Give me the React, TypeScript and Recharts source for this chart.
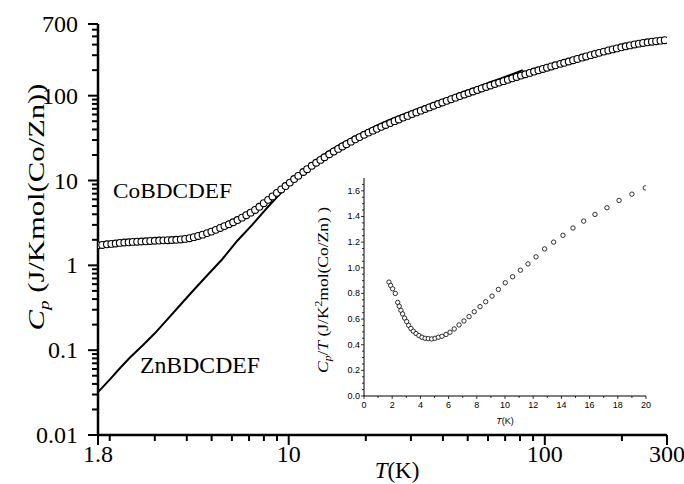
import { ComposedChart, ScatterChart, Scatter, Line, XAxis, YAxis } from 'recharts';

// CoBDCDEF heat capacity (open circles)
const coT = [
  1.8, 1.87, 1.95, 2.03, 2.11, 2.19, 2.28, 2.37, 2.46, 2.56,
  2.66, 2.77, 2.88, 3.0, 3.12, 3.24, 3.37, 3.5, 3.64, 3.79,
  3.94, 4.1, 4.26, 4.43, 4.61, 4.8, 4.99, 5.19, 5.4, 5.61,
  5.84, 6.07, 6.31, 6.57, 6.83, 7.1, 7.39, 7.68, 7.99, 8.31,
  8.64, 8.99, 9.35, 9.72, 10.1, 10.5, 10.9, 11.4, 11.8, 12.3,
  12.8, 13.3, 13.8, 14.4, 15.0, 15.6, 16.2, 16.8, 17.5, 18.2,
  18.9, 19.7, 20.5, 21.3, 22.1, 23.0, 23.9, 24.9, 25.9, 26.9,
  28.0, 29.1, 30.3, 31.5, 32.8, 34.1, 35.4, 36.8, 38.3, 39.8,
  41.4, 43.1, 44.8, 46.6, 48.5, 50.4, 52.4, 54.5, 56.7, 59.0,
  61.3, 63.8, 66.3, 69.0, 71.7, 74.6, 77.6, 80.7, 83.9, 87.3,
  90.8, 94.4, 98.2, 102, 106, 110, 115, 119, 124, 129,
  134, 140, 145, 151, 157, 163, 170, 177, 184, 191,
  199, 207, 215, 224, 233, 242, 252, 262, 272, 283,
  294,
];
const coCp = [
  1.72, 1.74, 1.77, 1.79, 1.81, 1.84, 1.86, 1.87, 1.89, 1.9,
  1.91, 1.92, 1.94, 1.95, 1.96, 1.97, 1.98, 1.99, 2.0, 2.02,
  2.05, 2.09, 2.15, 2.22, 2.3, 2.4, 2.5, 2.62, 2.76, 2.9,
  3.05, 3.22, 3.42, 3.65, 3.9, 4.18, 4.5, 4.9, 5.4, 5.92,
  6.5, 7.15, 7.85, 8.6, 9.45, 10.4, 11.35, 12.6, 13.6, 14.9,
  16.2, 17.5, 18.8, 20.4, 22.0, 23.6, 25.2, 26.8, 28.7, 30.6,
  32.5, 34.6, 36.7, 38.7, 40.7, 42.9, 45.1, 47.6, 50.1, 52.5,
  55.2, 57.8, 60.7, 63.5, 66.6, 69.7, 72.8, 76.1, 79.7, 83.2,
  86.9, 90.9, 94.8, 99.0, 103.3, 107.6, 112.1, 116.8, 121.7, 126.8,
  131.9, 137.3, 142.7, 148.4, 154.0, 160.0, 166.2, 172.5, 178.9, 185.7,
  192.6, 199.5, 206.7, 213.7, 221.0, 228.3, 237.2, 244.3, 252.9, 262.0,
  271.0, 281.7, 290.3, 300.5, 310.4, 320.0, 330.8, 341.2, 351.3, 361.0,
  371.7, 381.9, 391.6, 401.9, 410.7, 418.5, 426.2, 432.9, 439.1, 445.4,
  451.2,
];

// ZnBDCDEF heat capacity (solid line)
const znT = [
  1.8, 2.0, 2.2, 2.4, 2.7, 3.0, 3.4, 3.8, 4.3, 4.84,
  5.5, 6.3, 7.2, 8.2, 9.0, 10.0, 11.0, 12.0, 13.2, 14.5,
  16.0, 18.0, 20.6, 23.0, 26.0, 29.0, 32.5, 36.0, 40.0, 44.0,
  47.8, 52.0, 57.0, 62.0, 67.0, 72.0, 77.0, 82.0,
];
const znCp = [
  0.032, 0.045, 0.062, 0.082, 0.115, 0.158, 0.24, 0.35, 0.53, 0.78,
  1.18, 1.95, 3.0, 4.7, 6.4, 9.0, 11.9, 14.8, 18.6, 22.5,
  27, 32.5, 40, 47, 55, 62.5, 71, 80, 90, 100,
  110, 120, 133, 146, 159, 172, 186, 200,
];

// inset: Cp/T vs T
const insetT = [
  1.77, 1.89, 2.03, 2.22, 2.39, 2.5, 2.62, 2.74, 2.88, 3.03,
  3.17, 3.33, 3.5, 3.69, 3.9, 4.11, 4.33, 4.56, 4.8, 5.04,
  5.27, 5.53, 5.82, 6.1, 6.4, 6.74, 7.09, 7.45, 7.82, 8.23,
  8.63, 9.08, 9.53, 10.02, 10.54, 11.09, 11.63, 12.2, 12.81, 13.45,
  14.11, 14.82, 15.58, 16.38, 17.23, 18.09, 19.0, 19.95,
];
const insetCpT = [
  0.888, 0.862, 0.836, 0.8, 0.73, 0.7, 0.668, 0.64, 0.608, 0.58,
  0.551, 0.526, 0.505, 0.487, 0.471, 0.458, 0.45, 0.448, 0.445, 0.45,
  0.458, 0.466, 0.48, 0.497, 0.523, 0.554, 0.585, 0.619, 0.657, 0.697,
  0.735, 0.779, 0.831, 0.883, 0.93, 0.981, 1.03, 1.085, 1.147, 1.2,
  1.253, 1.31, 1.364, 1.416, 1.468, 1.525, 1.574, 1.623,
];

// axis ticks
const xTicks = [1.8, 2, 3, 4, 5, 6, 7, 8, 9, 10, 20, 30, 40, 50, 60, 70, 80, 90, 100, 200, 300];
const xLabels = [1.8, 10, 100, 300];
const xMajors = [1.8, 10, 100, 300];
const yTicks = [
  0.01, 0.02, 0.03, 0.04, 0.05, 0.06, 0.07, 0.08, 0.09,
  0.1, 0.2, 0.3, 0.4, 0.5, 0.6, 0.7, 0.8, 0.9,
  1, 2, 3, 4, 5, 6, 7, 8, 9,
  10, 20, 30, 40, 50, 60, 70, 80, 90,
  100, 200, 300, 400, 500, 600, 700,
];
const yLabels = [0.01, 0.1, 1, 10, 100, 700];
const yMajors = [0.01, 0.1, 1, 10, 100, 700];

const insetXTicks = [0, 1, 2, 3, 4, 5, 6, 7, 8, 9, 10, 11, 12, 13, 14, 15, 16, 17, 18, 19, 20];
const insetYTicks = [
  0, 0.05, 0.1, 0.15, 0.2, 0.25, 0.3, 0.35, 0.4, 0.45, 0.5, 0.55, 0.6, 0.65, 0.7, 0.75, 0.8,
  0.85, 0.9, 0.95, 1.0, 1.05, 1.1, 1.15, 1.2, 1.25, 1.3, 1.35, 1.4, 1.45, 1.5, 1.55, 1.6, 1.65,
];

const coData = coT.map((t, i) => ({ t, cp: coCp[i] }));
const znData = znT.map((t, i) => ({ t, cp: znCp[i] }));
const insetData = insetT.map((t, i) => ({ t, v: insetCpT[i] }));

const SERIF = '"Liberation Serif", "Times New Roman", serif';
const SANS = '"Liberation Sans", Arial, sans-serif';

const near = (list: number[], v: number) => list.some((m) => Math.abs(m - v) <= Math.abs(m) * 1e-6 + 1e-9);

type Side = 'bottom' | 'left' | 'top' | 'right';

function mainTick(side: Side, majors: number[], labels: number[]) {
  return (props: any) => {
    const { x, y, payload } = props;
    const v = payload.value;
    const len = near(majors, v) ? 10 : 6;
    const label = side === 'bottom' || side === 'left' ? near(labels, v) : false;
    let line;
    if (side === 'bottom' || side === 'top') line = <line x1={x} y1={y} x2={x} y2={y + len} />;
    else line = <line x1={x} y1={y} x2={x - len} y2={y} />;
    return (
      <g stroke="#000" strokeWidth={2}>
        {line}
        {label && side === 'bottom' && (
          <text x={x} y={y + 27} textAnchor="middle" fontSize={24} fontFamily={SERIF} fill="#000" stroke="none">
            {String(v)}
          </text>
        )}
        {label && side === 'left' && (
          <text x={x - 20} y={y + 8} textAnchor="end" fontSize={24} fontFamily={SERIF} fill="#000" stroke="none">
            {String(v)}
          </text>
        )}
      </g>
    );
  };
}

function insetTick(side: 'bottom' | 'left') {
  return (props: any) => {
    const { x, y, payload } = props;
    const v = payload.value;
    if (side === 'bottom') {
      const major = v % 2 === 0;
      return (
        <g>
          <line x1={x} y1={y} x2={x} y2={y + (major ? 3 : 2)} stroke="#000" strokeWidth={0.8} />
          {major && (
            <text x={x} y={y + 12} textAnchor="middle" fontSize={9} fontFamily={SANS} fill="#000">
              {v}
            </text>
          )}
        </g>
      );
    }
    const major = Math.abs(v * 5 - Math.round(v * 5)) < 1e-6;
    return (
      <g>
        <line x1={x} y1={y} x2={x - (major ? 3 : 2)} y2={y} stroke="#000" strokeWidth={0.8} />
        {major && (
          <text x={x - 4} y={y + 3} textAnchor="end" fontSize={9} fontFamily={SANS} fill="#000">
            {v.toFixed(1)}
          </text>
        )}
      </g>
    );
  };
}

const MainCircle = (p: any) => (
  <circle cx={p.cx} cy={p.cy} r={3.4} fill="#fff" stroke="#000" strokeWidth={1.1} />
);
const InsetCircle = (p: any) => (
  <circle cx={p.cx} cy={p.cy} r={2.2} fill="#fff" stroke="#000" strokeWidth={0.8} />
);

const axisStroke = { stroke: '#000', strokeWidth: 2.5 };

export default function App() {
  return (
    <div style={{ position: 'absolute', left: 0, top: 0, width: 684, height: 484, background: '#fff' }}>
      <ComposedChart width={684} height={484} margin={{ top: 24, right: 17, bottom: 0, left: 0 }}>
        <XAxis
          xAxisId="b"
          dataKey="t"
          type="number"
          scale="log"
          domain={[1.8, 300]}
          allowDataOverflow
          ticks={xTicks}
          interval={0}
          height={49}
          tickLine={false}
          tickSize={0}
          tickMargin={0}
          axisLine={axisStroke}
          tick={mainTick('bottom', xMajors, xLabels)}
        />
        <XAxis
          xAxisId="t"
          orientation="top"
          dataKey="t"
          type="number"
          scale="log"
          domain={[1.8, 300]}
          allowDataOverflow
          ticks={xTicks}
          interval={0}
          height={0}
          tickLine={false}
          tickSize={0}
          tickMargin={0}
          axisLine={axisStroke}
          tick={mainTick('top', xMajors, xLabels)}
        />
        <YAxis
          yAxisId="l"
          dataKey="cp"
          type="number"
          scale="log"
          domain={[0.01, 700]}
          allowDataOverflow
          ticks={yTicks}
          interval={0}
          width={98}
          tickLine={false}
          tickSize={0}
          tickMargin={0}
          axisLine={axisStroke}
          tick={mainTick('left', yMajors, yLabels)}
        />
        <YAxis
          yAxisId="r"
          orientation="right"
          dataKey="cp"
          type="number"
          scale="log"
          domain={[0.01, 700]}
          allowDataOverflow
          ticks={yTicks}
          interval={0}
          width={0}
          tickLine={false}
          tickSize={0}
          tickMargin={0}
          axisLine={axisStroke}
          tick={mainTick('right', yMajors, yLabels)}
        />
        <Scatter
          xAxisId="b"
          yAxisId="l"
          data={coData}
          dataKey="cp"
          shape={MainCircle}
          isAnimationActive={false}
        />
        <Line
          xAxisId="b"
          yAxisId="l"
          data={znData}
          dataKey="cp"
          type="linear"
          stroke="#000"
          strokeWidth={2}
          dot={false}
          activeDot={false}
          isAnimationActive={false}
        />
      </ComposedChart>

      <div style={{ position: 'absolute', left: 290, top: 170 }}>
        <ScatterChart width={370} height={260} margin={{ top: 8, right: 14, bottom: 0, left: 0 }}>
          <XAxis
            dataKey="t"
            type="number"
            domain={[0, 20]}
            allowDataOverflow
            ticks={insetXTicks}
            interval={0}
            height={34}
            tickLine={false}
            tickSize={0}
            tickMargin={0}
            axisLine={{ stroke: '#000', strokeWidth: 1 }}
            tick={insetTick('bottom')}
          />
          <YAxis
            dataKey="v"
            type="number"
            domain={[0, 1.7]}
            allowDataOverflow
            ticks={insetYTicks}
            interval={0}
            width={74}
            tickLine={false}
            tickSize={0}
            tickMargin={0}
            axisLine={{ stroke: '#000', strokeWidth: 1 }}
            tick={insetTick('left')}
          />
          <Scatter data={insetData} dataKey="v" shape={InsetCircle} isAnimationActive={false} />
        </ScatterChart>
      </div>

      <svg width={684} height={484} style={{ position: 'absolute', left: 0, top: 0, pointerEvents: 'none' }}>
        <g fontFamily={SERIF} fill="#000">
          <text
            transform="translate(44,207) rotate(-90)"
            textAnchor="middle"
            fontSize={24}
            textLength={247}
            lengthAdjust="spacingAndGlyphs"
          >
            <tspan fontStyle="italic">C</tspan>
            <tspan fontStyle="italic" fontSize={15} dy={5}>p</tspan>
            <tspan dy={-5}> (J/Kmol(Co/Zn))</tspan>
          </text>
          <text x={397} y={478} textAnchor="middle" fontSize={23}>
            <tspan fontStyle="italic">T</tspan>(K)
          </text>
          <text x={113} y={198} fontSize={22} textLength={119} lengthAdjust="spacingAndGlyphs">
            CoBDCDEF
          </text>
          <text x={140} y={373} fontSize={23} textLength={120} lengthAdjust="spacingAndGlyphs">
            ZnBDCDEF
          </text>
          <text
            transform="translate(328,290) rotate(-90)"
            textAnchor="middle"
            fontSize={15}
            textLength={166}
            lengthAdjust="spacingAndGlyphs"
          >
            <tspan fontStyle="italic">C</tspan>
            <tspan fontStyle="italic" fontSize={10} dy={3}>p</tspan>
            <tspan dy={-3}>/</tspan>
            <tspan fontStyle="italic">T</tspan>
            <tspan> (J/K</tspan>
            <tspan fontSize={10} dy={-6}>2</tspan>
            <tspan dy={6}>mol(Co/Zn) )</tspan>
          </text>
        </g>
        <text x={505} y={424} textAnchor="middle" fontSize={9} fontFamily={SANS} fill="#000">
          <tspan fontStyle="italic">T</tspan>(K)
        </text>
      </svg>
    </div>
  );
}
